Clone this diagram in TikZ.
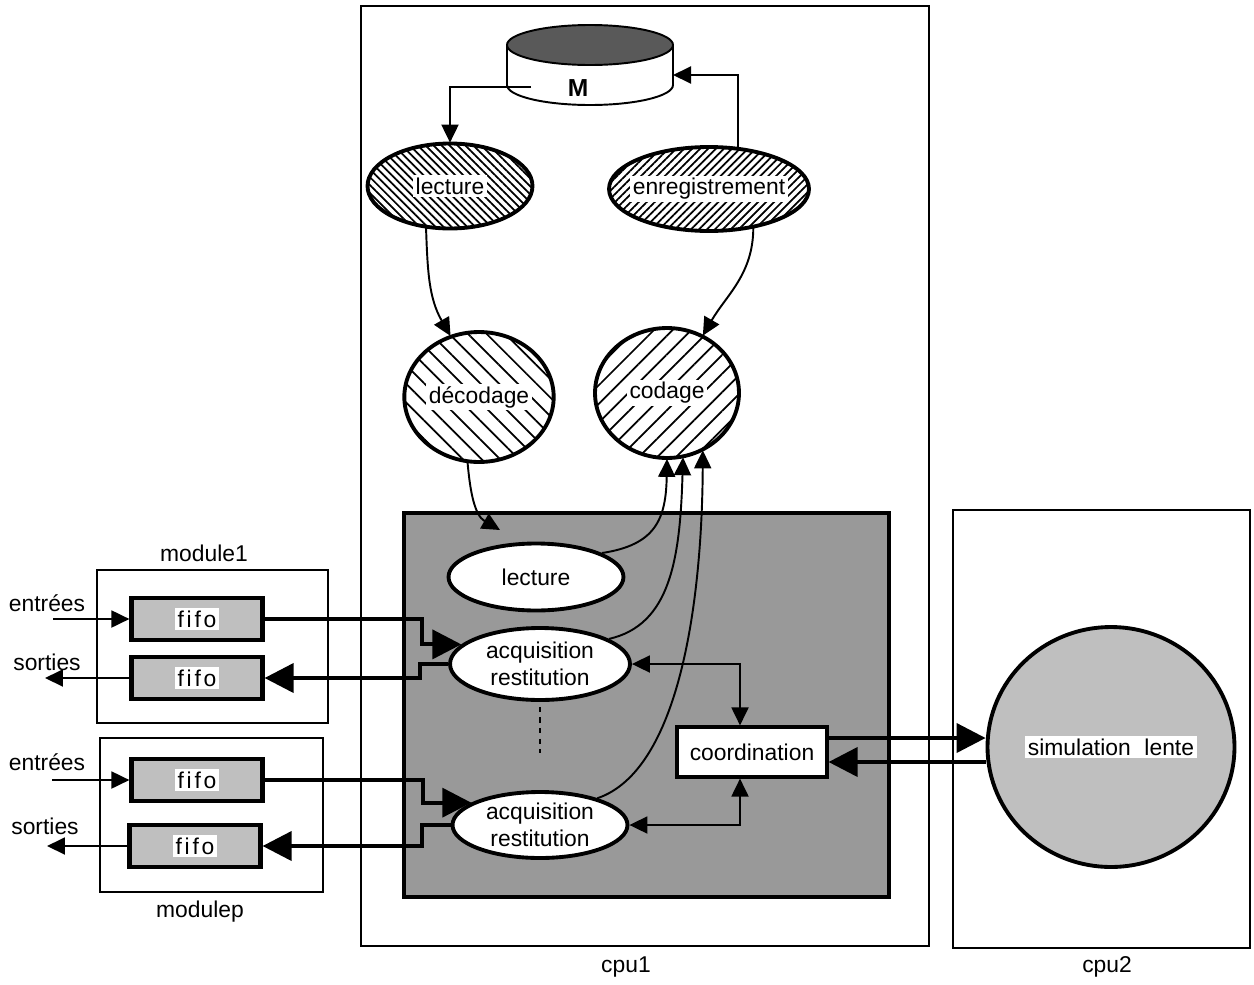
\documentclass[tikz,border=0pt]{standalone}
\usepackage{fontspec}
\setmainfont{Liberation Sans}
\usetikzlibrary{arrows.meta,shapes.geometric,patterns,patterns.meta,calc}

\newcommand{\blanc}[1]{{\setlength{\fboxsep}{1.5pt}\colorbox{white}{#1}}}

\tikzset{cadre/.style={
            draw,
            line width=1.1pt,
            inner sep=0pt
        },
        zone/.style={
            draw,
            fill=black!40,
            line width=2.6pt,
            inner sep=0pt
        },
        tache/.style={
            draw,
            ellipse,
            fill=white,
            line width=2.2pt,
            inner sep=0pt
        },
        hach/.style={
            draw,
            ellipse,
            line width=2.2pt,
            inner sep=0pt
        },
        fifobox/.style={
            draw,
            fill=black!25,
            line width=2.4pt,
            inner sep=0pt,
            minimum width=2.62cm,
            minimum height=0.84cm,
            font=\fontsize{13}{15}\selectfont\addfontfeatures{LetterSpace=12}
        },
        fleche/.style={
            line width=1.1pt,
            -{Triangle[length=0.36cm,width=0.34cm]}
        },
        fleches/.style={
            line width=1.1pt,
            {Triangle[length=0.36cm,width=0.34cm]}-{Triangle[length=0.36cm,width=0.34cm]}
        },
        gros/.style={
            line width=2.2pt,
            -{Triangle[length=0.58cm,width=0.58cm]}
        },
        every node/.style={font=\fontsize{13}{15.5}\selectfont}
    }

\begin{document}
\begin{tikzpicture}[x=0.02cm,y=-0.02cm]
    \useasboundingbox (0,0) rectangle (1254,984);
    % les deux processeurs
    \node[cadre,minimum width=11.36cm,minimum height=18.8cm] (cpu1) at (645,476) {};
    \node (cpu1lab) at (626,967) {cpu1};
    \node[cadre,minimum width=5.94cm,minimum height=8.76cm] (cpu2) at (1101.5,729) {};
    \node (cpu2lab) at (1107,967) {cpu2};

    % memoire M
    \filldraw[fill=white,line width=1.1pt] (507,45) -- (507,85) arc[start angle=180,end angle=0,x radius=83,y radius=20] -- (673,45);
    \draw[fill=black!65,line width=1.1pt] (590,45) ellipse [x radius=83,y radius=20];
    \node[font=\fontsize{14}{16}\selectfont\bfseries] (mem) at (578,88) {M};
    \coordinate (memout) at (531,87);
    \coordinate (memin) at (673,75);

    \node[hach,pattern={Lines[angle=-45,distance=3.2pt,line width=1pt]},minimum width=3.3cm,minimum height=1.7cm] (lect) at (450,186) {\blanc{lecture}};
    \node[hach,inner xsep=-5pt,pattern={Lines[angle=45,distance=3.2pt,line width=1pt]},minimum width=4cm,minimum height=1.68cm] (enreg) at (709,189) {\blanc{enregistrement}};
    \node[hach,pattern={Lines[angle=-45,distance=7.5pt,line width=1pt]},minimum width=2.84cm,minimum height=2.6cm] (decod) at (479,397) {\blanc{décodage}};
    \node[hach,pattern={Lines[angle=45,distance=7.5pt,line width=1pt]},minimum width=2.88cm,minimum height=2.6cm] (cod) at (667,393) {\blanc{codage}};

    \draw[fleche] (memout) -| (lect.north);
    \draw[fleche] (enreg.55) |- (memin);
    \draw[fleche] (lect.-120) to[out=-88,in=120] (decod.115);
    \draw[fleche] (enreg.-41) to[out=-90,in=60] (cod.58);

    % noyau temps reel
    \node[zone,minimum width=9.7cm,minimum height=7.68cm] (noyau) at (646.5,705) {};
    \coordinate (entree) at (500,530);
    \draw[fleche] (decod.-100) to[out=-85,in=150] (entree);
    \node[tache,minimum width=3.5cm,minimum height=1.34cm] (lect2) at (536,577) {lecture};
    \node[tache,minimum width=3.6cm,minimum height=1.44cm,align=center] (acq1) at (540,664) {acquisition\\restitution};
    \node[tache,minimum width=3.5cm,minimum height=1.32cm,align=center] (acq2) at (540,825) {acquisition\\restitution};
    \node[cadre,fill=white,line width=1.8pt,minimum width=3cm,minimum height=1cm] (coord) at (752,752) {coordination};
    \draw[dashed,line width=1.2pt] ([yshift=-0.1cm]acq1.south) -- ([yshift=0.74cm]acq2.north);

    \draw[fleche] (lect2.20) .. controls (655,545) and (666,520) .. (cod.-90);
    \draw[fleche] (acq1.20) .. controls (670,625) and (680,560) .. (cod.-76);
    \draw[fleche] (acq2.25) .. controls (680,770) and (702,600) .. (cod.-58);
    \draw[fleches] (acq1.east) -| ([xshift=-0.24cm]coord.north);
    \draw[fleches] (acq2.east) -| ([xshift=-0.24cm]coord.south);

    % simulation lente
    \node[draw,ellipse,fill=black!25,line width=2.2pt,inner sep=0pt,minimum width=4.94cm,minimum height=4.8cm] (sim) at (1111,747) {\blanc{simulation\hspace{0.6em}lente}};
    \draw[gros] ([yshift=0.28cm]coord.east) -- ([yshift=0.28cm]coord.east -| sim.west);
    \draw[gros] ([yshift=-0.2cm]coord.east -| sim.west) -- ([yshift=-0.2cm]coord.east);

    % modules d'entrees sorties
    \node[cadre,minimum width=4.62cm,minimum height=3.06cm] (mod1) at (212.5,646.5) {};
    \node (mod1lab) at (204,553) {module1};
    \node[fifobox] (f1) at (197,619) {\blanc{fifo}};
    \node[fifobox] (f2) at (197,678) {\blanc{fifo}};
    \node (ent1) at (47,603) {entrées};
    \node (sor1) at (47,662) {sorties};
    \coordinate (in1) at (53,619);
    \coordinate (out1) at (45,678);
    \draw[fleche] (in1) -- (f1.west);
    \draw[fleche] (f2.west) -- (out1);

    \node[cadre,minimum width=4.46cm,minimum height=3.08cm] (modp) at (211.5,815) {};
    \node (modplab) at (200,912) {modulep};
    \node[fifobox] (f3) at (197,780) {\blanc{fifo}};
    \node[fifobox] (f4) at (195,846) {\blanc{fifo}};
    \node (ent2) at (47,762) {entrées};
    \node (sor2) at (45,826) {sorties};
    \coordinate (in2) at (52,780);
    \coordinate (out2) at (47,846);
    \draw[fleche] (in2) -- (f3.west);
    \draw[fleche] (f4.west) -- (out2);

    \draw[gros] (f1.east) -- ++(157,0) |- (acq1.166);
    \draw[gros] (acq1.west) -- ++(-28,0) |- (f2.east);
    \draw[gros] (f3.east) -- ++(158,0) |- (acq2.162);
    \draw[gros] (acq2.west) -- ++(-29,0) |- (f4.east);
\end{tikzpicture}
\end{document}
